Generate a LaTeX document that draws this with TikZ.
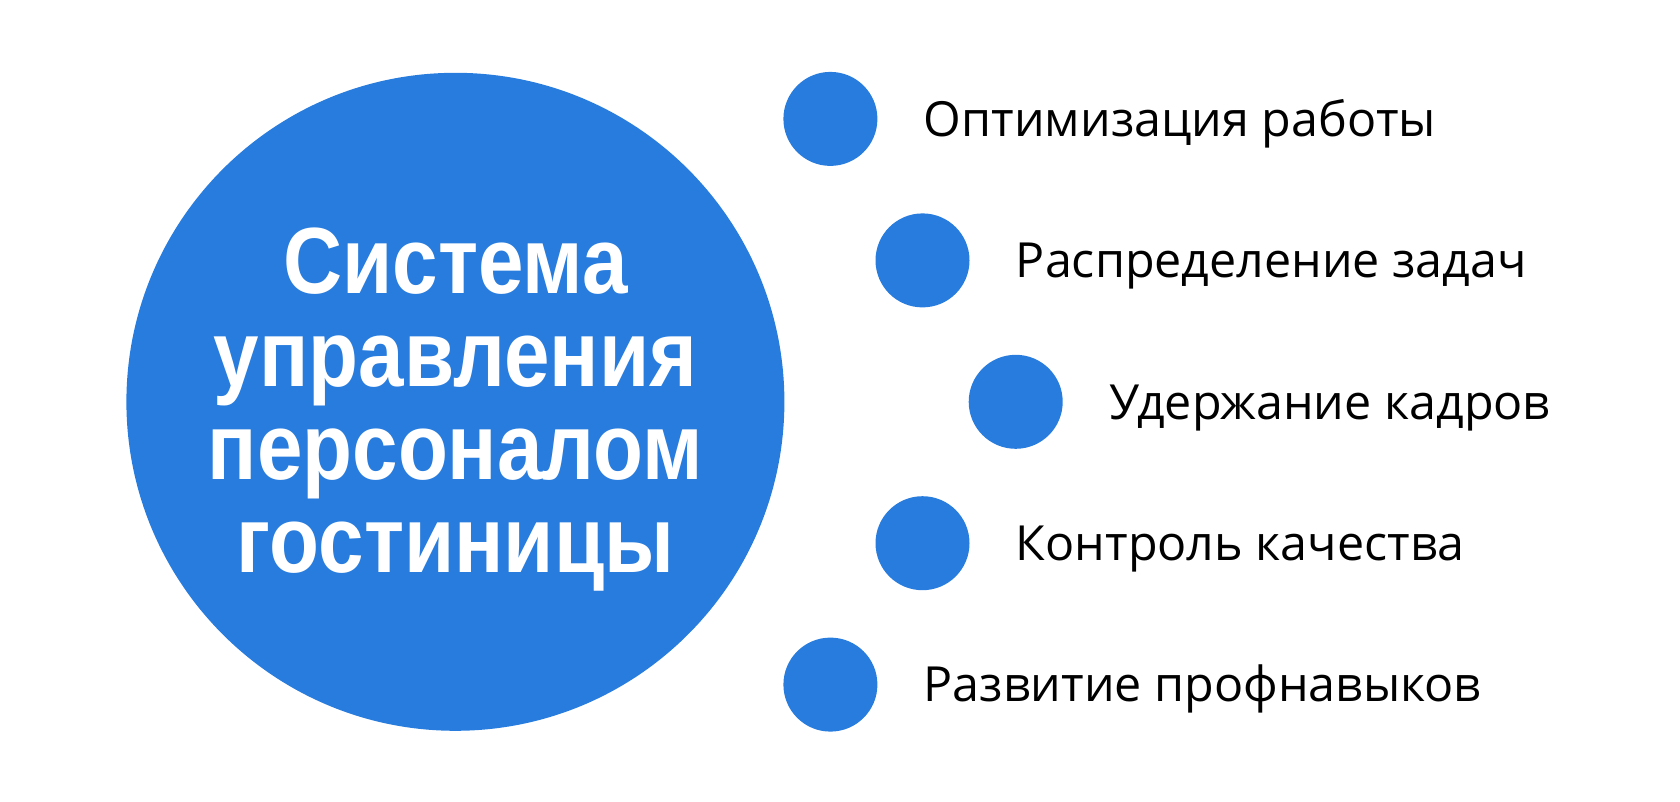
\documentclass[tikz,border=0pt]{standalone}
\usepackage{fontspec}
\setmainfont{Open Sans}
\newfontfamily\titlefont[FakeStretch=0.87]{Liberation Sans}
\usetikzlibrary{positioning}
\definecolor{dotblue}{RGB}{39,124,222}
\begin{document}
\begin{tikzpicture}[x=1pt,y=-1pt,
    dot/.style={circle,fill=dotblue,inner sep=0pt,minimum size=94pt},
    item/.style={anchor=west,inner sep=0pt,text height=34.6pt,text depth=0pt,font=\fontsize{48.4}{48.4}\selectfont}]
                \useasboundingbox (0,0) rectangle (1680,802);
                \node[circle,fill=dotblue,inner sep=0pt,minimum size=658pt] (hub) at (455.4,401.8) {};
                \node[anchor=north,inner sep=0pt,align=center,text=white,font=\titlefont\bfseries\fontsize{94}{93}\selectfont] (title) at (455.4,228)
                    {Система\\управления\\персоналом\\гостиницы};

                \node[dot] (d1) at (830.4,118.9) {};
                \node[dot] (d2) at (922.5,260.4) {};
                \node[dot] (d3) at (1015.7,401.8) {};
                \node[dot] (d4) at (922.5,543.2) {};
                \node[dot] (d5) at (830.4,684.6) {};
                \node[item,right=46pt of d1] (l1) {Оптимизация работы};
                \node[item,right=46pt of d2] (l2) {Распределение задач};
                \node[item,right=46pt of d3] (l3) {Удержание кадров};
                \node[item,right=46pt of d4] (l4) {Контроль качества};
                \node[item,right=46pt of d5] (l5) {Развитие профнавыков};
            \end{tikzpicture}
\end{document}
